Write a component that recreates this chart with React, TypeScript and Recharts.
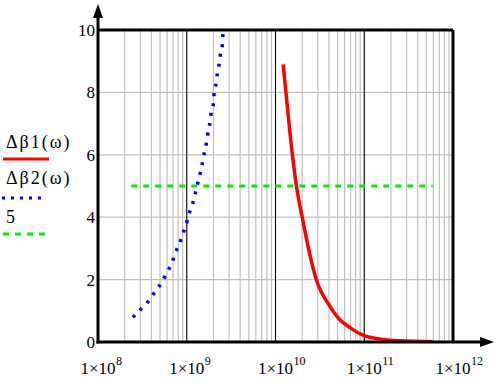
import {
    LineChart,
    Line,
    XAxis,
    YAxis,
    CartesianGrid,
    ReferenceLine,
    Legend,
} from 'recharts';

// Δβ2(ω): frequencies and values
const omegaB2 = [
    2.47e8, 2.79e8, 3.12e8, 3.55e8, 3.98e8, 4.44e8, 4.9e8, 5.85e8, 6.92e8, 7.41e8,
    8.04e8, 8.71e8, 9.4e8, 1.016e9, 1.07e9, 1.156e9, 1.24e9, 1.33e9, 1.4e9, 1.48e9,
    1.54e9, 1.7e9, 1.75e9, 1.84e9, 1.89e9, 2.0e9, 2.03e9, 2.15e9, 2.21e9, 2.32e9,
    2.39e9, 2.51e9, 2.57e9,
];
const deltaB2 = [
    0.79, 0.95, 1.08, 1.24, 1.44, 1.62, 1.79, 2.17, 2.6, 2.84,
    3.08, 3.32, 3.61, 3.9, 4.14, 4.39, 4.74, 5.09, 5.35, 5.64,
    5.92, 6.53, 6.79, 7.08, 7.37, 7.65, 7.95, 8.32, 8.61, 8.91,
    9.2, 9.49, 10,
];

// Δβ1(ω)
const omegaB1 = [
    1.22e10, 1.31e10, 1.55e10, 1.72e10, 2.0e10, 2.32e10, 2.88e10, 4.07e10, 5.25e10,
    6.84e10, 9.66e10, 1.48e11, 2.51e11, 5.9e11,
];
const deltaB1 = [8.9, 8, 6, 5, 4, 3.08, 2, 1.16, 0.73, 0.47, 0.22, 0.1, 0.04, 0.01];

// constant level 5
const omegaLevel = [2.37e8, 5.9e11];
const level = [5, 5];

const decades = [1e8, 1e9, 1e10, 1e11, 1e12];
const mantissas = [1, 2, 3, 4, 5, 6, 7, 8, 9];
const yTicks = [0, 2, 4, 6, 8, 10];

const gridTicks = decades
    .slice(0, -1)
    .flatMap((d) => mantissas.map((m) => m * d))
    .concat([1e12]);
const exponents: Record<number, number> = { 1e8: 8, 1e9: 9, 1e10: 10, 1e11: 11, 1e12: 12 };

const b2Data = omegaB2.map((w, i) => ({ w, v: deltaB2[i] }));
const b1Data = omegaB1.map((w, i) => ({ w, v: deltaB1[i] }));
const levelData = omegaLevel.map((w, i) => ({ w, v: level[i] }));

const W = 495;
const H = 383;
const Y_AXIS_W = 60;
const X_AXIS_H = 30;
const X0 = 98;
const Y0 = 342;
const FONT = "'Liberation Serif', 'DejaVu Serif', serif";

function XTick(props: any) {
    const { x, payload } = props;
    const e = exponents[payload.value];
    if (e === undefined) return null;
    return (
        <g>
            <text
                x={x}
                y={Y0 + 32}
                fontSize={17}
                fontFamily={FONT}
                fill="#000"
                textAnchor="middle"
            >
                1×10
            </text>
            <text
                x={x + 18}
                y={Y0 + 23}
                fontSize={12}
                fontFamily={FONT}
                fill="#000"
                textAnchor="start"
            >
                {e}
            </text>
        </g>
    );
}

function YTick(props: any) {
    const { y, payload } = props;
    return (
        <text
            x={X0 - 3}
            y={y + 6}
            fontSize={17}
            fontFamily={FONT}
            textAnchor="end"
            fill="#000"
        >
            {payload.value}
        </text>
    );
}

function LegendBox() {
    return (
        <svg width={90} height={120} style={{ display: 'block' }}>
            <text x={6} y={23} fontSize={18} fontFamily={FONT} fill="#000" letterSpacing={2}>
                Δβ1(ω)
            </text>
            <text x={6} y={59} fontSize={18} fontFamily={FONT} fill="#000" letterSpacing={2}>
                Δβ2(ω)
            </text>
            <text x={6} y={98} fontSize={18} fontFamily={FONT} fill="#000">
                5
            </text>
            <line x1={3} x2={49} y1={34} y2={34} stroke="#ff0000" strokeWidth={3} />
            <line x1={2} x2={44} y1={73} y2={73} stroke="#0000ff" strokeWidth={3} strokeDasharray="3 6" />
            <line x1={3} x2={46} y1={109} y2={109} stroke="#00ee00" strokeWidth={3} strokeDasharray="6 6" />
        </svg>
    );
}

export default function App() {
    return (
        <div style={{ position: 'absolute', left: 0, top: 0, width: W, height: H, background: '#fff' }}>
            <LineChart
                width={W}
                height={H}
                margin={{ top: 30, right: 42, bottom: H - Y0 - X_AXIS_H, left: X0 - Y_AXIS_W }}
            >
                <CartesianGrid stroke="#c0c0c0" strokeWidth={1.2} />
                <XAxis
                    dataKey="w"
                    type="number"
                    scale="log"
                    domain={[1e8, 1e12]}
                    ticks={gridTicks}
                    interval={0}
                    allowDataOverflow
                    height={X_AXIS_H}
                    axisLine={false}
                    tickLine={false}
                    tick={(p: any) => <XTick {...p} />}
                />
                <YAxis
                    type="number"
                    domain={[0, 10]}
                    ticks={yTicks}
                    interval={0}
                    width={Y_AXIS_W}
                    axisLine={false}
                    tickLine={false}
                    tick={(p: any) => <YTick {...p} />}
                    allowDataOverflow
                />
                {decades.slice(1, -1).map((d) => (
                    <ReferenceLine key={d} x={d} stroke="#000" strokeWidth={1} />
                ))}
                <ReferenceLine y={10} stroke="#000" strokeWidth={3} />
                <ReferenceLine x={1e12} stroke="#000" strokeWidth={3} />
                <Legend
                    layout="horizontal"
                    align="center"
                    verticalAlign="middle"
                    content={() => <LegendBox />}
                    wrapperStyle={{ left: 0, top: 125, width: 90, height: 120 }}
                />
                <Line
                    name="5"
                    data={levelData}
                    dataKey="v"
                    type="linear"
                    stroke="#00ee00"
                    strokeWidth={3}
                    strokeDasharray="6 6"
                    dot={false}
                    isAnimationActive={false}
                />
                <Line
                    name="Δβ2(ω)"
                    data={b2Data}
                    dataKey="v"
                    type="monotone"
                    stroke="#0000ff"
                    strokeWidth={3.5}
                    strokeDasharray="3 7"
                    dot={false}
                    isAnimationActive={false}
                />
                <Line
                    name="Δβ1(ω)"
                    data={b1Data}
                    dataKey="v"
                    type="monotone"
                    stroke="#ff0000"
                    strokeWidth={3.5}
                    dot={false}
                    isAnimationActive={false}
                />
            </LineChart>
            <svg
                width={W}
                height={H}
                style={{ position: 'absolute', left: 0, top: 0, pointerEvents: 'none' }}
            >
                <line x1={X0} x2={X0} y1={Y0 + 1.5} y2={16} stroke="#000" strokeWidth={3} />
                <polygon points={`${X0},4 ${X0 - 5},18 ${X0 + 5},18`} fill="#000" />
                <line x1={X0 - 1.5} x2={481} y1={Y0} y2={Y0} stroke="#000" strokeWidth={3} />
                <polygon points={`494,${Y0} 480,${Y0 - 5} 480,${Y0 + 5}`} fill="#000" />
            </svg>
        </div>
    );
}
